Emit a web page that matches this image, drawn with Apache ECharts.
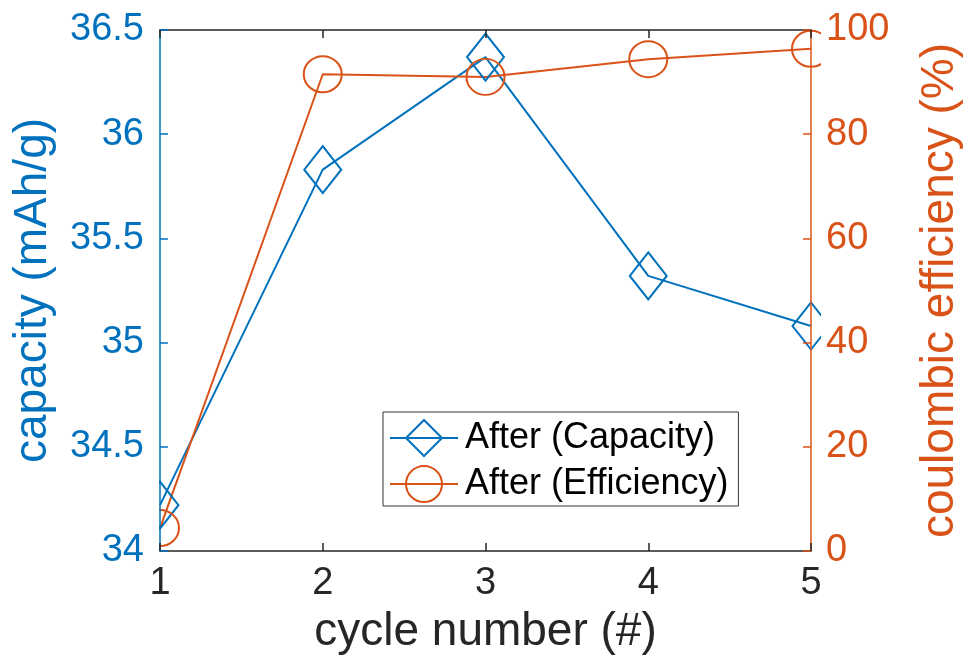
<!DOCTYPE html>
<html>
<head>
<meta charset="utf-8">
<script src="https://cdn.jsdelivr.net/npm/echarts@6/dist/echarts.min.js"></script>
<style>
  html, body { margin: 0; padding: 0; background: #fff; overflow: hidden; }
  #chart { width: 971px; height: 669px; }
</style>
</head>
<body>
<div id="chart"></div>
<script>
// Cycle data
const cycles = [1, 2, 3, 4, 5];
const capacity = [34.22, 35.83, 36.37, 35.32, 35.08];   // mAh/g
const efficiency = [4.4, 91.5, 91.0, 94.4, 96.4];       // %

const xTicks = { min: 1, max: 5, interval: 1 };
const capTicks = { min: 34, max: 36.5, interval: 0.5 };
const effTicks = { min: 0, max: 100, interval: 20 };

const seriesNames = ['After (Capacity)', 'After (Efficiency)'];

const BLUE = '#0072BD';
const ORANGE = '#D95319';
const TEXT = '#262626';
const FONT = 'Liberation Sans, Arial, Helvetica, sans-serif';

const W = 971, H = 669;
const GRID = { left: 160, right: 151, top: 30, bottom: 118 };

const chart = echarts.init(document.getElementById('chart'), null, { renderer: 'canvas', width: W, height: H });

// White masks outside the plot box so markers sitting on the edges get clipped,
// drawn below the axes so tick labels stay visible.
const maskStyle = { fill: '#fff' };
const masks = [
  { type: 'rect', z: 5, silent: true, shape: { x: 0, y: 0, width: GRID.left - 1, height: H }, style: maskStyle },
  { type: 'rect', z: 5, silent: true, shape: { x: W - GRID.right + 1, y: 0, width: GRID.right, height: H }, style: maskStyle },
  { type: 'rect', z: 5, silent: true, shape: { x: 0, y: 0, width: W, height: GRID.top - 1 }, style: maskStyle },
  { type: 'rect', z: 5, silent: true, shape: { x: 0, y: H - GRID.bottom + 1, width: W, height: GRID.bottom }, style: maskStyle }
];

const option = {
  backgroundColor: '#fff',
  animation: false,
  textStyle: { fontFamily: FONT },
  grid: { left: GRID.left, right: GRID.right, top: GRID.top, bottom: GRID.bottom, containLabel: false },
  graphic: { elements: masks },
  legend: {
    z: 20,
    orient: 'vertical',
    left: 383,
    top: 412,
    padding: [7, 10, 3, 6],
    itemGap: 8,
    itemWidth: 68,
    itemHeight: 45,
    backgroundColor: '#fff',
    borderColor: '#333',
    borderWidth: 1,
    borderRadius: 0,
    textStyle: { fontSize: 36, color: '#000', fontFamily: FONT, padding: [0, 0, 0, 2] },
    data: seriesNames
  },
  xAxis: [
    {
      type: 'value',
      position: 'bottom',
      z: 10,
      min: xTicks.min, max: xTicks.max, interval: xTicks.interval,
      name: 'cycle number (#)',
      nameLocation: 'middle',
      nameGap: 58,
      nameTextStyle: { fontSize: 46, color: TEXT, fontFamily: FONT },
      axisLine: { show: true, lineStyle: { color: TEXT, width: 1.5 } },
      axisTick: { show: true, inside: true, length: 8, lineStyle: { color: TEXT, width: 1.5 } },
      axisLabel: { fontSize: 38, color: TEXT, margin: 14, fontFamily: FONT },
      splitLine: { show: false }
    },
    {
      type: 'value',
      position: 'top',
      z: 10,
      min: xTicks.min, max: xTicks.max, interval: xTicks.interval,
      axisLine: { show: true, lineStyle: { color: TEXT, width: 1.5 } },
      axisTick: { show: true, inside: true, length: 8, lineStyle: { color: TEXT, width: 1.5 } },
      axisLabel: { show: false },
      splitLine: { show: false }
    }
  ],
  yAxis: [
    {
      type: 'value',
      position: 'left',
      z: 10,
      min: capTicks.min, max: capTicks.max, interval: capTicks.interval,
      name: 'capacity (mAh/g)',
      nameLocation: 'middle',
      nameGap: 104,
      nameTextStyle: { fontSize: 46, color: BLUE, fontFamily: FONT },
      axisLine: { show: true, lineStyle: { color: BLUE, width: 1.5 } },
      axisTick: { show: true, inside: true, length: 8, lineStyle: { color: BLUE, width: 1.5 } },
      axisLabel: { fontSize: 38, color: BLUE, margin: 16, fontFamily: FONT },
      splitLine: { show: false }
    },
    {
      type: 'value',
      position: 'right',
      z: 10,
      min: effTicks.min, max: effTicks.max, interval: effTicks.interval,
      name: 'coulombic efficiency (%)',
      nameLocation: 'middle',
      nameGap: 106,
      nameTextStyle: { fontSize: 46, color: ORANGE, fontFamily: FONT },
      axisLine: { show: true, lineStyle: { color: ORANGE, width: 1.5 } },
      axisTick: { show: true, inside: true, length: 8, lineStyle: { color: ORANGE, width: 1.5 } },
      axisLabel: { fontSize: 38, color: ORANGE, margin: 15, fontFamily: FONT },
      splitLine: { show: false }
    }
  ],
  series: [
    {
      name: seriesNames[0],
      type: 'line',
      xAxisIndex: 0,
      yAxisIndex: 0,
      z: 2,
      clip: false,
      color: BLUE,
      symbol: 'diamond',
      symbolSize: [37, 47],
      showAllSymbol: true,
      lineStyle: { color: BLUE, width: 2 },
      itemStyle: { color: 'rgba(0,0,0,0)', borderColor: BLUE, borderWidth: 2 },
      data: cycles.map((c, i) => [c, capacity[i]])
    },
    {
      name: seriesNames[1],
      type: 'line',
      xAxisIndex: 0,
      yAxisIndex: 1,
      z: 2,
      clip: false,
      color: ORANGE,
      symbol: 'circle',
      symbolSize: [38, 36],
      showAllSymbol: true,
      lineStyle: { color: ORANGE, width: 2 },
      itemStyle: { color: 'rgba(0,0,0,0)', borderColor: ORANGE, borderWidth: 2 },
      data: cycles.map((c, i) => [c, efficiency[i]])
    }
  ]
};

chart.setOption(option);
</script>
</body>
</html>
